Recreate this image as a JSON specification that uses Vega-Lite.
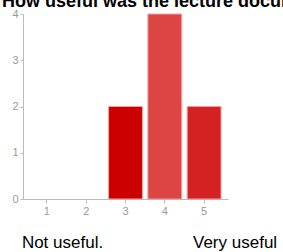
{
  "$schema": "https://vega.github.io/schema/vega-lite/v6.json",
  "autosize": "none",
  "padding": {"left": 23, "top": 14, "right": 55, "bottom": 53},
  "width": 205,
  "height": 185,
  "background": "white",
  "title": {
    "text": "How useful was the lecture documentation?",
    "anchor": "start",
    "frame": "group",
    "font": "Liberation Sans",
    "fontSize": 18,
    "fontWeight": "bold",
    "color": "#000000",
    "baseline": "alphabetic",
    "offset": 0,
    "dx": -21,
    "dy": 17
  },
  "config": {
    "view": {"stroke": null},
    "font": "Liberation Sans",
    "axis": {
      "domainColor": "#bbbbbb",
      "tickColor": "#bbbbbb",
      "labelColor": "#999999",
      "labelFont": "Liberation Sans",
      "labelFontSize": 11,
      "grid": false,
      "title": null
    }
  },
  "datasets": {
    "bars": [
      {"rating": "3", "count": 2},
      {"rating": "4", "count": 4},
      {"rating": "5", "count": 2}
    ],
    "ends": [
      {"rating": "1", "label": "Not useful."},
      {"rating": "5", "label": "Very useful"}
    ]
  },
  "layer": [
    {
      "data": {"name": "bars"},
      "mark": {"type": "bar", "stroke": "#f2a0a0", "strokeWidth": 1},
      "encoding": {
        "x": {
          "field": "rating",
          "type": "nominal",
          "scale": {"domain": ["1", "2", "3", "4", "5"], "paddingInner": 0.139, "paddingOuter": 0.177},
          "axis": {"labelAngle": 0, "tickSize": 4, "labelPadding": 2}
        },
        "y": {
          "field": "count",
          "type": "quantitative",
          "scale": {"domain": [0, 4], "nice": false},
          "axis": {"values": [0, 1, 2, 3, 4], "tickSize": 3, "labelPadding": 2}
        },
        "color": {
          "field": "rating",
          "type": "nominal",
          "scale": {"domain": ["3", "4", "5"], "range": ["#cc0000", "#dd4545", "#d42121"]},
          "legend": null
        }
      }
    },
    {
      "data": {"name": "ends"},
      "transform": [{"filter": "datum.rating == '1'"}],
      "mark": {"type": "text", "align": "left", "baseline": "alphabetic", "fontSize": 17, "color": "#000000", "dx": -25, "dy": 49},
      "encoding": {
        "x": {"field": "rating", "type": "nominal"},
        "y": {"datum": 0, "type": "quantitative"},
        "text": {"field": "label"}
      }
    },
    {
      "data": {"name": "ends"},
      "transform": [{"filter": "datum.rating == '5'"}],
      "mark": {"type": "text", "align": "right", "baseline": "alphabetic", "fontSize": 17, "color": "#000000", "dx": 73, "dy": 49},
      "encoding": {
        "x": {"field": "rating", "type": "nominal"},
        "y": {"datum": 0, "type": "quantitative"},
        "text": {"field": "label"}
      }
    }
  ]
}
